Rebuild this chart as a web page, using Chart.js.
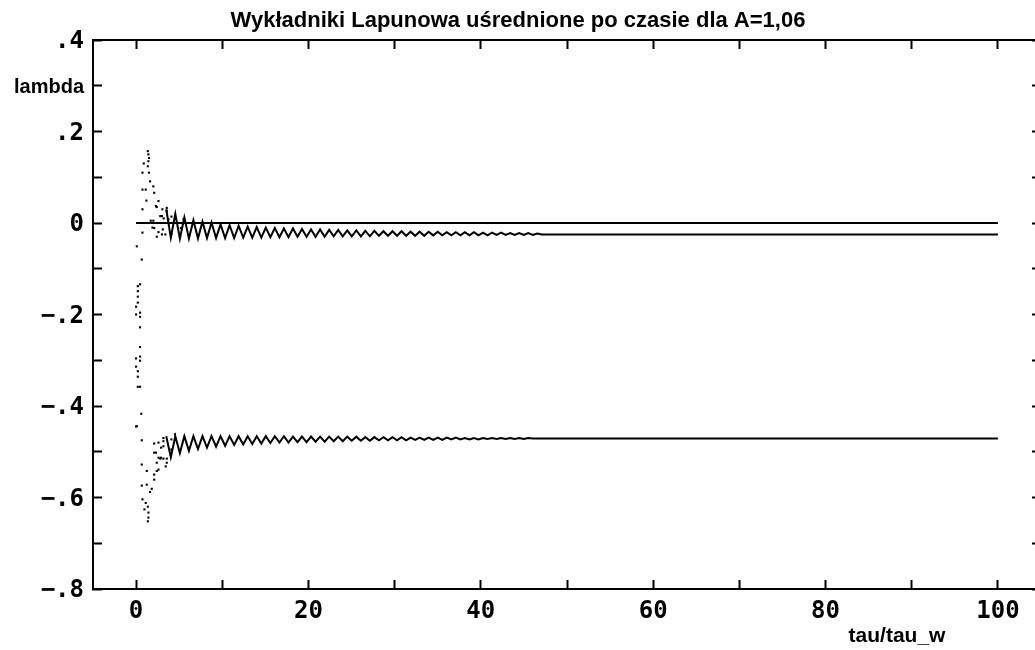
<!DOCTYPE html>
<html>
<head>
<meta charset="utf-8">
<title>Wykładniki Lapunowa</title>
<script src="https://cdn.jsdelivr.net/npm/chart.js@4/dist/chart.umd.min.js"></script>
<style>
  html, body { margin: 0; padding: 0; background: #fff; overflow: hidden; width: 1035px; height: 650px; }
  #wrap { position: absolute; left: 0; top: 0; width: 1050px; height: 650px; }
  canvas { display: block; }
</style>
</head>
<body>
<div id="wrap"><canvas id="chart" width="1050" height="650"></canvas></div>
<script>
// ---- texts ----
const titleText = 'Wykładniki Lapunowa uśrednione po czasie dla A=1,06';
const xAxisTitle = 'tau/tau_w';
const yAxisTitle = 'lambda';
const yAxisTitleAt = 0.3;

// ---- axes ----
const xTickValues = [0, 10, 20, 30, 40, 50, 60, 70, 80, 90, 100];
const xTickLabels = ['0', '', '20', '', '40', '', '60', '', '80', '', '100'];
const yTickValues = [-0.8, -0.7, -0.6, -0.5, -0.4, -0.3, -0.2, -0.1, 0, 0.1, 0.2, 0.3, 0.4];
const yTickLabels = ['−.8', '', '−.6', '', '−.4', '', '−.2', '', '0', '', '.2', '', '.4'];

// ---- first exponent (neutral direction) ----
const lambda1Tau = [0, 100];
const lambda1 = [0, 0];

// ---- second exponent: early running averages (dots) ----
const lambda2StartTau = [0.00, 0.00, 0.00, 0.00, 0.08, 0.20, 0.20, 0.20, 0.20, 0.20, 0.20, 0.20,
  0.46, 0.46, 0.46, 0.46, 0.46, 0.46, 0.46, 0.46, 0.66, 0.74, 0.74, 0.74, 0.74, 0.89,
  1.12, 1.20, 1.36, 1.36, 1.43, 1.43, 1.50, 1.50, 1.62, 1.70, 1.90, 2.00, 2.00, 2.10, 2.10,
  2.30, 2.40, 2.40, 2.60, 2.60, 2.80, 3.00, 3.00, 3.05, 3.10, 3.20, 3.40, 3.56, 3.56, 3.75,
  4.10, 4.10, 4.60, 5.10, 5.20, 5.50];
const lambda2Start = [-0.314, -0.296, -0.200, -0.183, -0.051, -0.358, -0.336, -0.324, -0.174, -0.161, -0.149, -0.138,
  -0.358, -0.301, -0.292, -0.271, -0.228, -0.205, -0.196, -0.134, -0.080, -0.021, 0.030, 0.073, 0.110, 0.130,
  0.073, 0.049, 0.157, 0.124, 0.150, 0.135, 0.142, 0.110, 0.091, 0.005, -0.010, 0.080, 0.005, 0.066, -0.011,
  0.037, 0.035, -0.030, 0.048, -0.020, 0.015, 0.015, -0.025, 0.030, -0.014, 0.010, -0.025, 0.033, 0.026, 0.008,
  0.014, -0.025, 0.011, -0.030, -0.011, 0.008];

// ---- third exponent: early running averages (dots) ----
const lambda3StartTau = [0.00, 0.08, 0.60, 0.66, 0.66, 0.66, 0.74, 0.97, 1.12, 1.24, 1.24, 1.36, 1.36,
  1.43, 1.43, 1.62, 1.82, 2.10, 2.10, 2.10, 2.10, 2.30, 2.40, 2.40, 2.60, 2.60, 2.60, 2.80,
  2.90, 2.90, 3.17, 3.17, 3.17, 3.17, 3.44, 3.56, 3.56, 4.10, 4.10, 4.50];
const lambda3Start = [-0.445, -0.444, -0.417, -0.475, -0.528, -0.574, -0.604, -0.626, -0.612, -0.542, -0.572, -0.620, -0.652,
  -0.633, -0.644, -0.588, -0.581, -0.561, -0.550, -0.482, -0.502, -0.502, -0.542, -0.524, -0.539, -0.513, -0.480, -0.515,
  -0.513, -0.491, -0.470, -0.477, -0.488, -0.515, -0.532, -0.515, -0.524, -0.473, -0.495, -0.462];

// ---- settling phase: alternating crests and troughs, then the limit ----
const settleTau = [3.50, 4.03, 4.55, 5.08, 5.60, 6.13, 6.65, 7.18, 7.70, 8.23, 8.75, 9.28, 9.80, 10.33,
  10.85, 11.38, 11.90, 12.43, 12.95, 13.48, 14.00, 14.53, 15.05, 15.58, 16.10, 16.63, 17.15, 17.68,
  18.20, 18.73, 19.25, 19.78, 20.30, 20.83, 21.35, 21.88, 22.40, 22.93, 23.45, 23.98, 24.50, 25.03,
  25.55, 26.08, 26.60, 27.13, 27.65, 28.18, 28.70, 29.23, 29.75, 30.28, 30.80, 31.33, 31.85, 32.38,
  32.90, 33.43, 33.95, 34.48, 35.00, 35.53, 36.05, 36.58, 37.10, 37.63, 38.15, 38.68, 39.20, 39.73,
  40.25, 40.78, 41.30, 41.83, 42.35, 42.88, 43.40, 43.93, 44.45, 44.98, 45.50, 46.03, 46.55, 47.08,
  47.60, 100];
const lambda2Settle = [0.030, -0.032, 0.020, -0.034, 0.012, -0.034, 0.006, -0.034, 0.003, -0.033, 0.001, -0.033, -0.003, -0.033,
  -0.005, -0.033, -0.006, -0.032, -0.008, -0.032, -0.009, -0.032, -0.010, -0.031, -0.011, -0.031, -0.012, -0.031,
  -0.012, -0.030, -0.013, -0.030, -0.014, -0.030, -0.014, -0.030, -0.015, -0.029, -0.015, -0.029, -0.016, -0.029,
  -0.016, -0.029, -0.017, -0.029, -0.017, -0.028, -0.018, -0.028, -0.018, -0.028, -0.018, -0.028, -0.019, -0.028,
  -0.019, -0.028, -0.019, -0.027, -0.019, -0.027, -0.020, -0.027, -0.020, -0.027, -0.020, -0.027, -0.020, -0.027,
  -0.021, -0.027, -0.021, -0.026, -0.021, -0.026, -0.022, -0.026, -0.022, -0.026, -0.022, -0.026, -0.023, -0.025,
  -0.025, -0.025];
const lambda3Settle = [-0.466, -0.512, -0.466, -0.503, -0.466, -0.498, -0.466, -0.494, -0.466, -0.491, -0.466, -0.489, -0.466, -0.487,
  -0.466, -0.485, -0.466, -0.484, -0.466, -0.483, -0.466, -0.482, -0.466, -0.481, -0.466, -0.480, -0.466, -0.480,
  -0.467, -0.479, -0.467, -0.479, -0.467, -0.478, -0.467, -0.478, -0.467, -0.477, -0.467, -0.477, -0.467, -0.476,
  -0.467, -0.476, -0.468, -0.476, -0.468, -0.475, -0.468, -0.475, -0.468, -0.475, -0.468, -0.475, -0.469, -0.474,
  -0.469, -0.474, -0.469, -0.474, -0.469, -0.474, -0.469, -0.473, -0.469, -0.473, -0.470, -0.473, -0.470, -0.473,
  -0.470, -0.472, -0.470, -0.472, -0.470, -0.472, -0.470, -0.472, -0.470, -0.472, -0.470, -0.471, -0.471, -0.471,
  -0.471, -0.471];

// ---- build ----
const pts = (xs, ys) => xs.map((x, i) => ({ x: x, y: ys[i] }));

const monoFont = { family: '"DejaVu Sans Mono", "Liberation Mono", monospace', size: 24, weight: 'bold' };
const sansFont = { family: '"Liberation Sans", Arial, sans-serif', size: 20, weight: 'bold' };

const lineStyle = { showLine: true, borderColor: '#000', borderWidth: 2, pointRadius: 0, tension: 0 };
const dotStyle = { showLine: false, pointStyle: 'rect', pointRadius: 1.5, pointBorderWidth: 0,
  pointBackgroundColor: '#000', backgroundColor: '#000', borderColor: '#000' };

const setTicks = (values) => (scale) => { scale.ticks = values.map(v => ({ value: v })); };
const isTitleTick = (v) => Math.abs(v - yAxisTitleAt) < 1e-9;

const frameGrid = { drawOnChartArea: false, drawTicks: true, tickLength: -9, tickWidth: 2, tickColor: '#000' };
const frameBorder = { display: true, width: 2, color: '#000' };

const textPlugin = {
  id: 'frameTexts',
  afterDraw(chart) {
    const ctx = chart.ctx;
    ctx.save();
    ctx.fillStyle = '#000';
    ctx.textAlign = 'center';
    ctx.textBaseline = 'alphabetic';
    ctx.font = 'bold 22px "Liberation Sans", Arial, sans-serif';
    ctx.fillText(titleText, 518, 27);
    ctx.font = 'bold 21px "Liberation Sans", Arial, sans-serif';
    ctx.fillText(xAxisTitle, 897, 642);
    ctx.restore();
  }
};

new Chart(document.getElementById('chart'), {
  type: 'scatter',
  data: {
    datasets: [
      Object.assign({ label: 'lambda1', data: pts(lambda1Tau, lambda1) }, lineStyle),
      Object.assign({ label: 'lambda2', data: pts(settleTau, lambda2Settle) }, lineStyle),
      Object.assign({ label: 'lambda3', data: pts(settleTau, lambda3Settle) }, lineStyle),
      Object.assign({ label: 'lambda2 start', data: pts(lambda2StartTau, lambda2Start) }, dotStyle),
      Object.assign({ label: 'lambda3 start', data: pts(lambda3StartTau, lambda3Start) }, dotStyle)
    ]
  },
  options: {
    responsive: false,
    animation: false,
    devicePixelRatio: 1,
    layout: { padding: { top: 40, right: 9, left: 0, bottom: 0 } },
    plugins: { legend: { display: false }, tooltip: { enabled: false }, title: { display: false } },
    scales: {
      x: {
        type: 'linear', position: 'bottom', min: -5, max: 105,
        afterBuildTicks: setTicks(xTickValues),
        afterFit: (s) => { s.height = 61; },
        ticks: { callback: (v, i) => xTickLabels[i], font: monoFont, color: '#000', padding: 17,
                 maxRotation: 0, autoSkip: false },
        grid: frameGrid, border: frameBorder
      },
      xTop: {
        type: 'linear', position: 'top', min: -5, max: 105,
        afterBuildTicks: setTicks(xTickValues),
        afterFit: (s) => { s.height = 0; },
        ticks: { display: false },
        grid: frameGrid, border: frameBorder
      },
      y: {
        type: 'linear', position: 'left', min: -0.8, max: 0.4,
        afterBuildTicks: setTicks(yTickValues),
        afterFit: (s) => { s.width = 93; },
        ticks: {
          callback: (v, i) => isTitleTick(v) ? yAxisTitle : yTickLabels[i],
          font: (c) => (c.tick && isTitleTick(c.tick.value)) ? sansFont : monoFont,
          color: '#000', padding: 18, labelOffset: 2, autoSkip: false
        },
        grid: frameGrid, border: frameBorder
      },
      yRight: {
        type: 'linear', position: 'right', min: -0.8, max: 0.4,
        afterBuildTicks: setTicks(yTickValues),
        afterFit: (s) => { s.width = 0; },
        ticks: { display: false },
        grid: frameGrid, border: frameBorder
      }
    }
  },
  plugins: [textPlugin]
});
</script>
</body>
</html>
